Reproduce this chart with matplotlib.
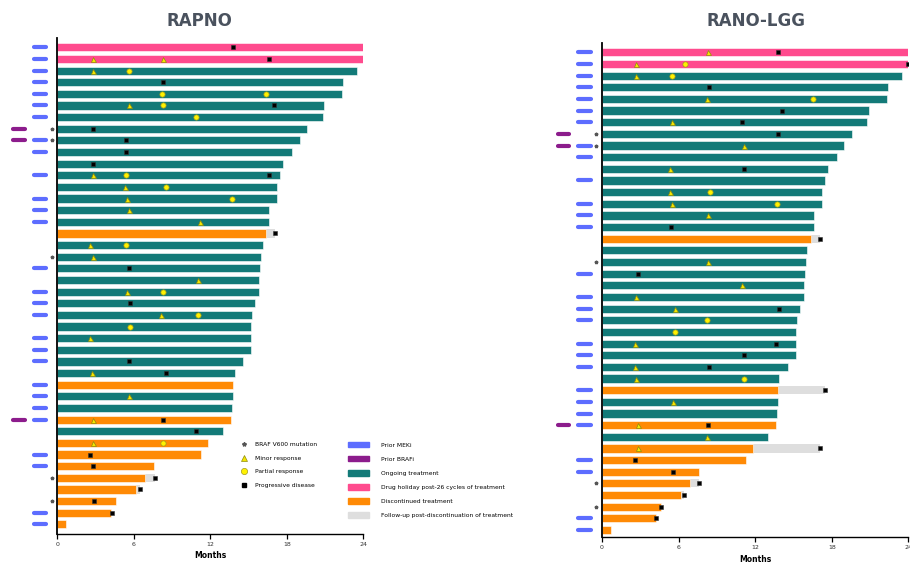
import numpy as np
import matplotlib.pyplot as plt
from matplotlib.patches import Patch
from matplotlib.lines import Line2D

# patient rows are numbered 1..42 from the top
months_on_treatment = [24, 24, 23.5, 22.4, 22.3, 20.9, 20.8, 19.6, 19.0, 18.4, 17.7, 17.5, 17.2, 17.2,
                       16.6, 16.6, 16.4, 16.1, 16.0, 15.9, 15.8, 15.8, 15.5, 15.3, 15.2, 15.2, 15.2, 14.6,
                       13.9, 13.8, 13.8, 13.7, 13.6, 13.0, 11.8, 11.3, 7.6, 6.9, 6.2, 4.6, 4.2, 0.7]
# H = drug holiday, T = ongoing, D = discontinued
status = "HHTTTTTTTTTTTTTTDTTTTTTTTTTTTDTTDTDDDDDDDD"

prior_mek = [1, 2, 3, 4, 5, 6, 7, 9, 10, 12, 14, 15, 16, 20, 22, 23, 24, 26, 27, 28, 30, 31, 32, 33,
             36, 37, 41, 42]
prior_braf = [8, 9, 33]
braf_v600 = [8, 9, 19, 38, 40]

# RAPNO assessment
rapno_minor_rows = [2, 2, 3, 6, 12, 13, 14, 15, 16, 18, 19, 21, 22, 24, 26, 29, 31, 33, 35]
rapno_minor_months = [2.8, 8.3, 2.8, 5.6, 2.8, 5.3, 5.5, 5.6, 11.2, 2.6, 2.8, 11.0, 5.5, 8.1, 2.6, 2.7,
                      5.6, 2.8, 2.8]
rapno_partial_rows = [3, 5, 5, 6, 7, 12, 13, 14, 18, 22, 24, 25, 35]
rapno_partial_months = [5.6, 8.2, 16.4, 8.3, 10.9, 5.4, 8.5, 13.7, 5.4, 8.3, 11.0, 5.7, 8.3]
rapno_pd_rows = [1, 2, 4, 6, 8, 9, 10, 11, 12, 17, 20, 23, 28, 29, 33, 34, 36, 37, 38, 39, 40, 41]
rapno_pd_months = [13.8, 16.6, 8.3, 17.0, 2.8, 5.4, 5.4, 2.8, 16.6, 17.1, 5.6, 5.7, 5.6, 8.5, 8.3,
                   10.9, 2.6, 2.8, 7.7, 6.5, 2.9, 4.3]
rapno_fu_rows = [17, 38, 39]
rapno_fu_months = [17.1, 7.7, 6.5]

# RANO-LGG assessment
lgg_minor_rows = [1, 2, 3, 5, 7, 9, 11, 13, 14, 15, 19, 21, 22, 23, 26, 28, 29, 31, 33, 34, 35]
lgg_minor_months = [8.3, 2.7, 2.7, 8.2, 5.5, 11.1, 5.3, 5.3, 5.5, 8.3, 8.3, 11.0, 2.7, 5.7, 2.6, 2.6,
                    2.7, 5.6, 2.8, 8.2, 2.8]
lgg_partial_rows = [2, 3, 5, 13, 14, 24, 25, 29]
lgg_partial_months = [6.5, 5.5, 16.5, 8.5, 13.7, 8.2, 5.7, 11.1]
lgg_pd_rows = [1, 2, 4, 6, 7, 8, 11, 16, 17, 20, 23, 26, 27, 28, 30, 33, 35, 36, 37, 38, 39, 40, 41]
lgg_pd_months = [13.8, 24.0, 8.4, 14.1, 11.0, 13.8, 11.1, 5.4, 17.1, 2.8, 13.9, 13.6, 11.1, 8.4, 17.5,
                 8.3, 17.1, 2.6, 5.6, 7.6, 6.4, 4.6, 4.2]
lgg_fu_rows = [17, 30, 35, 38, 39]
lgg_fu_months = [17.1, 17.5, 17.1, 7.6, 6.4]

xticks = [0, 6, 12, 18, 24]

BLUE = "#5d6dff"
PURPLE = "#8c1c8c"
TEAL = "#137a78"
PINK = "#ff4b8e"
ORANGE = "#ff8a05"
GREY = "#dedede"
colors = {"H": PINK, "T": TEAL, "D": ORANGE}


def draw_panel(ax, minor_r, minor_m, part_r, part_m, pd_r, pd_m, fu_r, fu_m, ylim):
    y = np.arange(len(months_on_treatment))
    # grey follow-up sits behind the discontinued bars
    fu_y = np.array(fu_r) - 1
    fu_start = np.array(months_on_treatment)[fu_y]
    ax.barh(fu_y, np.array(fu_m) - fu_start, left=fu_start, height=0.7, color=GREY, zorder=1)
    ax.barh(y, months_on_treatment, height=0.7, color=[colors[s] for s in status],
            edgecolor="white", linewidth=0.4, zorder=2)

    ax.plot(minor_m, np.array(minor_r) - 1, "^", ms=3.6, mfc="#f4e600", mec="#8c8a10", mew=0.5,
            ls="none", zorder=4)
    ax.plot(part_m, np.array(part_r) - 1, "o", ms=3.8, mfc="#fff200", mec="#a09a20", mew=0.5,
            ls="none", zorder=4)
    ax.plot(pd_m, np.array(pd_r) - 1, "s", ms=3.4, mfc="black", mec="#333333", mew=0.4,
            ls="none", zorder=5)

    # prior treatment flags and mutation marks left of the axis
    ax.hlines(np.array(prior_mek) - 1, -1.85, -0.9, color=BLUE, lw=3.0, capstyle="round",
              clip_on=False)
    ax.hlines(np.array(prior_braf) - 1, -3.45, -2.55, color=PURPLE, lw=3.0, capstyle="round",
              clip_on=False)
    ax.plot(np.full(len(braf_v600), -0.45), np.array(braf_v600) - 1, "*", ms=2.5, color="#555555",
            ls="none", clip_on=False)

    ax.set_xlim(0, 24)
    ax.set_ylim(*ylim)
    ax.set_xticks(xticks)
    ax.tick_params(axis="x", labelsize=4.5, labelcolor="#333333", length=3.5, width=0.9, pad=2.5)
    ax.set_yticks([])
    for side in ["top", "right"]:
        ax.spines[side].set_visible(False)
    ax.spines["left"].set_linewidth(1.3)
    ax.spines["bottom"].set_linewidth(1.0)
    ax.set_xlabel("Months", fontsize=5.5, fontweight="bold", labelpad=3)


fig = plt.figure(figsize=(9.1, 5.68), dpi=100)

ax1 = fig.add_axes([57.3 / 910, 34 / 568, 306 / 910, 496 / 568])
draw_panel(ax1, rapno_minor_rows, rapno_minor_months, rapno_partial_rows, rapno_partial_months,
           rapno_pd_rows, rapno_pd_months, rapno_fu_rows, rapno_fu_months, (41.83, -0.8))

ax2 = fig.add_axes([602 / 910, 31 / 568, 306.3 / 910, 494 / 568])
draw_panel(ax2, lgg_minor_rows, lgg_minor_months, lgg_partial_rows, lgg_partial_months,
           lgg_pd_rows, lgg_pd_months, lgg_fu_rows, lgg_fu_months, (41.6, -0.8))

fig.text(199 / 910, 1 - 21.5 / 568, "RAPNO", ha="center", va="center", fontsize=12,
         fontweight="bold", color="#4a525e")
fig.text(756 / 910, 1 - 21.5 / 568, "RANO-LGG", ha="center", va="center", fontsize=12,
         fontweight="bold", color="#4a525e")

marker_handles = [
    Line2D([], [], marker="*", ls="none", ms=3, color="#555555", label="BRAF V600 mutation"),
    Line2D([], [], marker="^", ls="none", ms=4, mfc="#f4e600", mec="#8c8a10", mew=0.5,
           label="Minor response"),
    Line2D([], [], marker="o", ls="none", ms=4.5, mfc="#fff200", mec="#a09a20", mew=0.5,
           label="Partial response"),
    Line2D([], [], marker="s", ls="none", ms=3.5, color="black", label="Progressive disease"),
]
patch_handles = [
    Patch(color=BLUE, label="Prior MEKi"),
    Patch(color=PURPLE, label="Prior BRAFi"),
    Patch(color=TEAL, label="Ongoing treatment"),
    Patch(color=PINK, label="Drug holiday post-26 cycles of treatment"),
    Patch(color=ORANGE, label="Discontinued treatment"),
    Patch(color=GREY, label="Follow-up post-discontinuation of treatment"),
]
fig.legend(handles=marker_handles, loc="upper left", bbox_to_anchor=(240 / 910, 1 - 442 / 568),
           frameon=False, fontsize=4.3, labelspacing=1.4, handlelength=1.2, handletextpad=1.3,
           borderpad=0, borderaxespad=0)
fig.legend(handles=patch_handles, loc="upper left", bbox_to_anchor=(348 / 910, 1 - 442 / 568),
           frameon=False, fontsize=4.3, labelspacing=1.4, handlelength=3.5, handleheight=1.0,
           handletextpad=2.0, borderpad=0, borderaxespad=0)

fig.savefig("out.png", dpi=100)
